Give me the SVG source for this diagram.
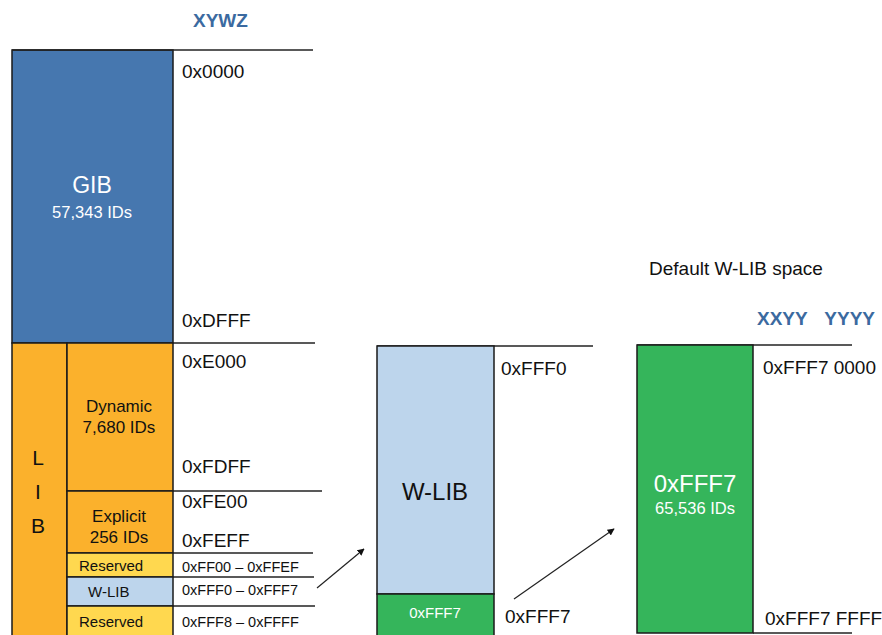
<svg xmlns="http://www.w3.org/2000/svg" width="882" height="635" viewBox="0 0 882 635">
<defs>
<style>
text{font-family:"Liberation Sans",Arial,sans-serif;fill:#111}
.box{stroke:#1a1a1a;stroke-width:1.5}
.ln{stroke:#222;stroke-width:1.3;fill:none}
.addr{font-size:19px}
.sm{font-size:14.5px}
.w{fill:#fff}
.c{text-anchor:middle}
.hdr{font-size:19px;fill:#3b6aa0;font-weight:bold}
.arr{stroke:#222;stroke-width:1.2;fill:none;marker-end:url(#ah)}
</style>
<marker id="ah" viewBox="0 0 10 10" refX="9" refY="5" markerWidth="7" markerHeight="7" orient="auto" markerUnits="userSpaceOnUse">
<path d="M0,0 L10,5 L0,10 z" fill="#111"/>
</marker>
</defs>
<rect width="882" height="635" fill="#fff"/>

<text class="hdr" x="193" y="27">XYWZ</text>

<g id="gib">
<rect class="box" x="12" y="50" width="161" height="293" fill="#4677AF"/>
<text class="w c" x="92" y="193" font-size="23">GIB</text>
<text class="w c" x="92" y="218" font-size="16.5">57,343 IDs</text>
</g>

<g id="lib">
<rect class="box" x="12" y="343" width="55" height="300" fill="#FBB12C"/>
<text class="c" x="38" y="465" font-size="21">L</text>
<text class="c" x="38" y="499" font-size="21">I</text>
<text class="c" x="38" y="533" font-size="21">B</text>
</g>

<g id="dynamic">
<rect class="box" x="67" y="343" width="106" height="148" fill="#FBB12C"/>
<text class="c" x="119" y="412" font-size="17">Dynamic</text>
<text class="c" x="119" y="433" font-size="17">7,680 IDs</text>
</g>

<g id="explicit">
<rect class="box" x="67" y="491" width="106" height="62" fill="#FBB12C"/>
<text class="c" x="119" y="522" font-size="17">Explicit</text>
<text class="c" x="119" y="543" font-size="17">256 IDs</text>
</g>

<g id="reserved1">
<rect class="box" x="67" y="553" width="106" height="24" fill="#FFD84F"/>
<text x="79" y="571" font-size="15">Reserved</text>
</g>

<g id="wlib-small">
<rect class="box" x="67" y="577" width="106" height="29" fill="#BDD5EC"/>
<text x="88" y="597" font-size="15">W-LIB</text>
</g>

<g id="reserved2">
<rect class="box" x="67" y="606" width="106" height="40" fill="#FFD84F"/>
<text x="79" y="627" font-size="15">Reserved</text>
</g>

<g id="left-addresses">
<line class="ln" x1="12" y1="50" x2="313" y2="50"/>
<line class="ln" x1="173" y1="343" x2="315" y2="343"/>
<line class="ln" x1="173" y1="491" x2="322" y2="491"/>
<line class="ln" x1="173" y1="553" x2="313" y2="553"/>
<line class="ln" x1="173" y1="577" x2="314" y2="577"/>
<line class="ln" x1="173" y1="606" x2="315" y2="606"/>
<text class="addr" x="182" y="78">0x0000</text>
<text class="addr" x="182" y="327">0xDFFF</text>
<text class="addr" x="182" y="368">0xE000</text>
<text class="addr" x="182" y="473">0xFDFF</text>
<text class="addr" x="182" y="508">0xFE00</text>
<text class="addr" x="182" y="547">0xFEFF</text>
<text class="sm" x="182" y="572">0xFF00 – 0xFFEF</text>
<text class="sm" x="182" y="595">0xFFF0 – 0xFFF7</text>
<text class="sm" x="182" y="627">0xFFF8 – 0xFFFF</text>
</g>

<g id="wlib">
<line class="ln" x1="377" y1="346" x2="593" y2="346"/>
<rect class="box" x="377" y="346" width="117" height="248" fill="#BDD5EC"/>
<text class="c" x="435" y="500" font-size="24">W-LIB</text>
<text class="addr" x="501" y="375">0xFFF0</text>
<text class="addr" x="505" y="623">0xFFF7</text>
</g>

<g id="wlib-fff7">
<rect class="box" x="377" y="594" width="117" height="50" fill="#35B55B"/>
<text class="w c" x="435" y="618" font-size="15">0xFFF7</text>
</g>

<g id="default-wlib">
<text x="649" y="275" font-size="19">Default W-LIB space</text>
<text class="hdr" x="757" y="325" word-spacing="12">XXYY YYYY</text>
<line class="ln" x1="637" y1="345" x2="852" y2="345"/>
<line class="ln" x1="753" y1="633" x2="852" y2="633"/>
<rect class="box" x="637" y="345" width="116" height="288" fill="#35B55B"/>
<text class="w c" x="695" y="492" font-size="24">0xFFF7</text>
<text class="w c" x="695" y="514" font-size="16.5">65,536 IDs</text>
<text class="addr" x="763" y="374">0xFFF7 0000</text>
<text class="addr" x="765" y="625">0xFFF7 FFFF</text>
</g>

<g id="connectors">
<line class="arr" x1="317" y1="588" x2="364" y2="549"/>
<line class="arr" x1="514" y1="599" x2="614" y2="529"/>
</g>
</svg>
